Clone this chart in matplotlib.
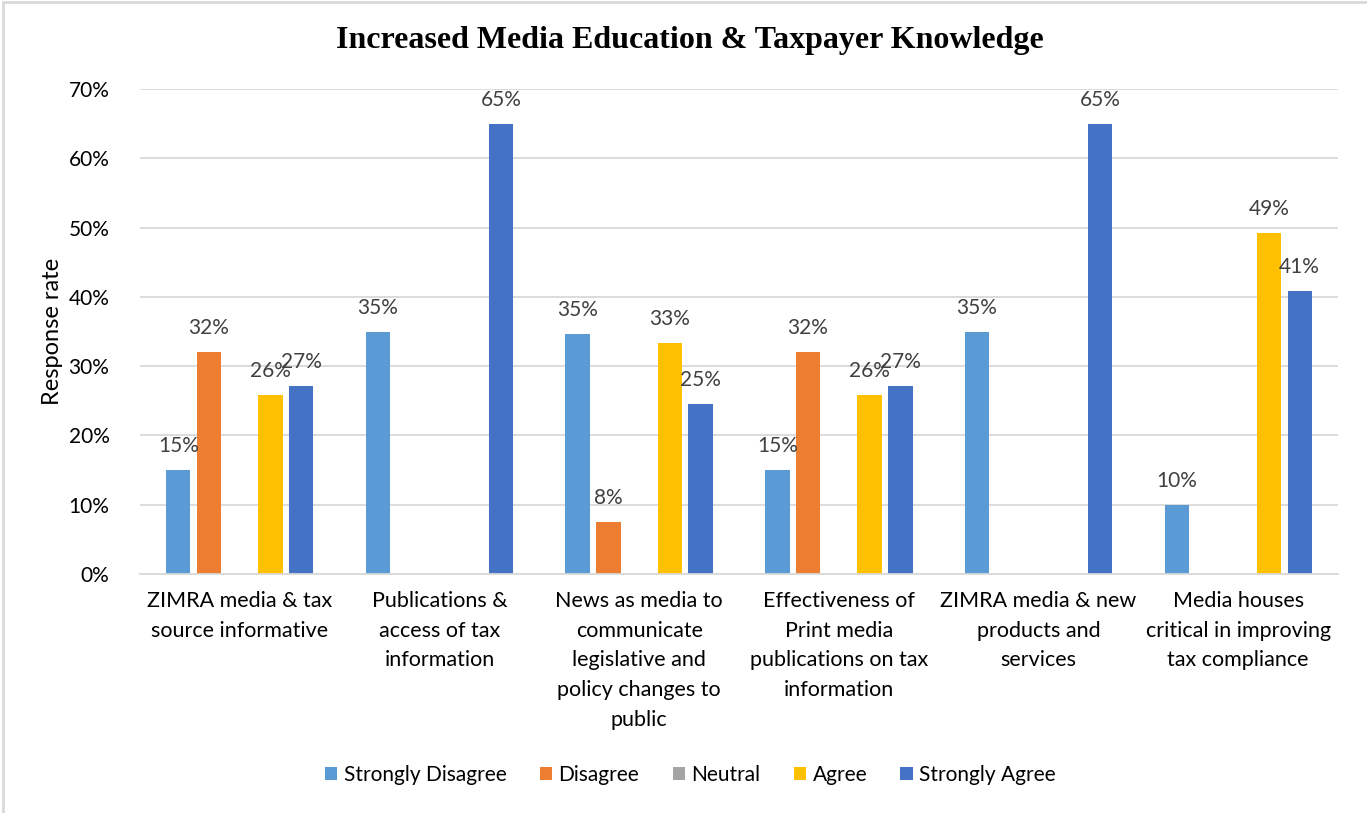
import matplotlib.pyplot as plt
import numpy as np
from matplotlib.patches import Rectangle

# data
categories = [
    "ZIMRA media & tax\nsource informative",
    "Publications &\naccess of tax\ninformation",
    "News as media to\ncommunicate\nlegislative and\npolicy changes to\npublic",
    "Effectiveness of\nPrint media\npublications on tax\ninformation",
    "ZIMRA media & new\nproducts and\nservices",
    "Media houses\ncritical in improving\ntax compliance",
]
series = ["Strongly Disagree", "Disagree", "Neutral", "Agree", "Strongly Agree"]
strongly_disagree = [15.0, 35.0, 34.6, 15.0, 35.0, 10.0]
disagree = [32.1, 0, 7.5, 32.1, 0, 0]
neutral = [0, 0, 0, 0, 0, 0]
agree = [25.8, 0, 33.3, 25.8, 0, 49.2]
strongly_agree = [27.1, 65.0, 24.6, 27.1, 65.0, 40.8]
values = [strongly_disagree, disagree, neutral, agree, strongly_agree]
colors = ["#5B9BD5", "#ED7D31", "#A5A5A5", "#FFC000", "#4472C4"]

plt.rcParams['font.family'] = ['Lato', 'DejaVu Sans']

fig = plt.figure(figsize=(13.67, 8.13), dpi=100)
ax = fig.add_axes([0.1024, 0.294, 0.8764, 0.5965])

x = np.arange(len(categories))
step = 0.154
width = 0.122
for i, (name, vals, c) in enumerate(zip(series, values, colors)):
    pos = x + (i - 2) * step
    bars = ax.bar(pos, [v / 100 for v in vals], width, color=c, label=name)
    for b, v in zip(bars, vals):
        if v > 0:
            ax.annotate(f"{round(v):.0f}%", (b.get_x() + b.get_width() / 2, b.get_height()),
                        xytext=(0, 10), textcoords="offset points", ha="center", va="bottom",
                        fontsize=15, color="#404040")

ax.set_xlim(-0.5, len(categories) - 0.5)
ax.set_ylim(0, 0.7)
ax.set_yticks(np.arange(0, 0.71, 0.1))
ax.set_yticklabels([f"{int(round(t * 100))}%" for t in np.arange(0, 0.71, 0.1)], fontsize=15)
ax.set_xticks(x)
ax.set_xticklabels(categories, fontsize=15.5, va="top", linespacing=1.62)
ax.tick_params(axis="both", length=0, pad=12)
ax.tick_params(axis="y", pad=22)
ax.grid(axis="y", color="#D9D9D9", linewidth=1.3)
ax.set_axisbelow(True)
for s in ["top", "right", "left"]:
    ax.spines[s].set_visible(False)
ax.spines["bottom"].set_color("#D9D9D9")
ax.spines["bottom"].set_linewidth(1.3)

ax.set_ylabel("Response rate", fontsize=17, labelpad=4)
fig.text(0.505, 0.95, "Increased Media Education & Taxpayer Knowledge", ha="center", va="center",
         fontsize=23, fontweight="bold", family="Liberation Serif")

fig.legend(loc="center", bbox_to_anchor=(0.505, 0.047), ncol=5, frameon=False, fontsize=15,
           handlelength=0.6, handleheight=0.6, handletextpad=0.3, columnspacing=1.6)

fig.patches.append(Rectangle((0.002, -0.01), 1.1, 1.007, transform=fig.transFigure,
                             fill=False, edgecolor="#D9D9D9", linewidth=2))

fig.savefig("out.png", dpi=100)
